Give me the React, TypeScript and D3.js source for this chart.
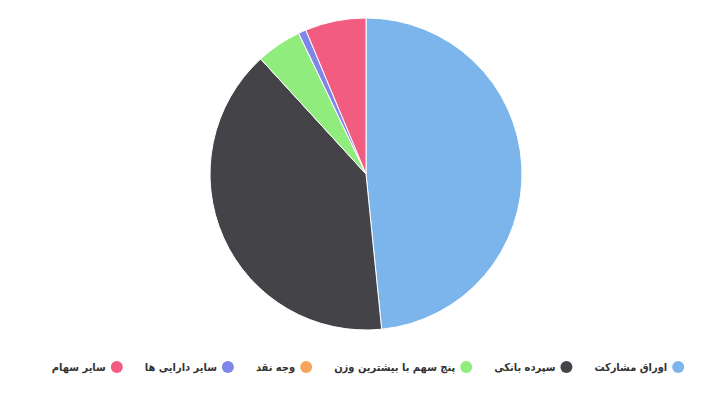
import React, { useEffect, useRef } from "react";
import * as d3 from "d3";

const categories = ["اوراق مشارکت", "سپرده بانکی", "پنج سهم با بیشترین وزن", "وجه نقد", "سایر دارایی ها", "سایر سهام"];
const values = [48.4, 39.8, 4.7, 0.0, 0.8, 6.3];
const colors = ["#7cb5ec", "#434348", "#90ed7d", "#f7a35c", "#8085e9", "#f15c80"];

const W = 722, H = 404;

export default function App() {
  const ref = useRef<SVGSVGElement>(null);
  useEffect(() => {
    const svg = d3.select(ref.current);
    svg.selectAll("*").remove();
    const cx = 366, cy = 174, r = 156;
    const pie = d3.pie<number>().sort(null).value(d => d)(values);
    const arc = d3.arc<d3.PieArcDatum<number>>().innerRadius(0).outerRadius(r);
    const g = svg.append("g").attr("transform", `translate(${cx},${cy})`);
    g.selectAll("path").data(pie).enter().append("path")
      .attr("d", arc as any)
      .attr("fill", (_d, i) => colors[i])
      .attr("stroke", "#ffffff")
      .attr("stroke-width", 1)
      .attr("stroke-linejoin", "round");

    // legend, RTL: first item on the right
    const lg = svg.append("g");
    const items = categories.map((c, i) => {
      const it = lg.append("g");
      it.append("circle").attr("r", 6).attr("fill", colors[i]);
      const t = it.append("text").text(c)
        .attr("text-anchor", "end")
        .attr("x", -11)
        .attr("y", 4)
        .style("font-family", "'DejaVu Sans Condensed', 'DejaVu Sans', sans-serif")
        .style("font-stretch", "condensed")
        .style("font-size", "11px")
        .style("font-weight", "bold")
        .style("fill", "#333333");
      const w = (t.node() as SVGTextElement).getComputedTextLength();
      return { it, w };
    });
    const gap = 22;
    const widths = items.map(d => d.w + 17);
    const total = d3.sum(widths) + gap * (items.length - 1);
    let right = 368 + total / 2;
    items.forEach((d, i) => {
      d.it.attr("transform", `translate(${right - 6},367)`);
      right -= widths[i] + gap;
    });
  }, []);
  return <svg ref={ref} width={W} height={H} style={{ position: "absolute", left: 0, top: 0, background: "#fff" }} />;
}
